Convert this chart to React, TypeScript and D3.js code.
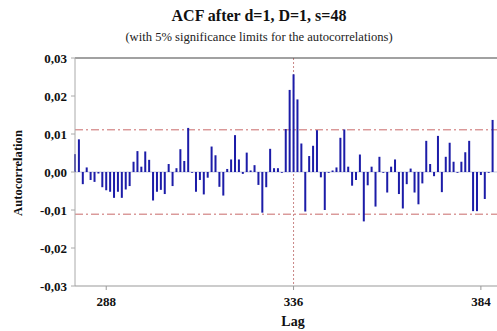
import React from "react";
import * as d3 from "d3";

// Autocorrelation of the differenced series, lags 280..387
const firstLag = 280;
const acfValues = [
  0.0047, 0.0086, -0.0032, 0.0012, -0.0021, -0.0026, -0.0004, -0.004, -0.0048, -0.0052,
  -0.0068, -0.0052, -0.0068, -0.0046, -0.0037, 0.0027, 0.0055, 0.0014, 0.0054, 0.0032,
  -0.0075, -0.0052, -0.0047, -0.0058, 0.0021, -0.0037, 0.001, 0.006, 0.0029, 0.0116,
  -0.0002, -0.0052, -0.0021, -0.0059, -0.0015, 0.0067, 0.0044, -0.0039, -0.0062, 0.0008,
  0.0033, 0.0097, 0.0033, -0.0005, 0.0051, 0.0004, 0.0018, -0.0034, -0.0107, -0.004,
  0.0061, 0.001, 0.001, -0.0002, 0.0113, 0.0216, 0.0257, 0.0191, 0.0075, -0.0104,
  0.0042, 0.0069, 0.011, -0.0014, -0.01, -0.0002, 0.0004, 0.0012, 0.009, 0.0112,
  0.0014, -0.0036, -0.0021, 0.0046, -0.013, -0.0035, 0.0014, -0.0091, 0.004, -0.0002,
  -0.0054, 0.0014, 0.0033, -0.0058, -0.0096, -0.0032, 0.0009, -0.0054, -0.0085, -0.003,
  0.0082, 0.0021, -0.0011, 0.0095, -0.0053, 0.004, 0.0077, 0.0027, -0.0002, 0.0027,
  0.0052, 0.0082, -0.0103, -0.0103, -0.0008, -0.0071, 0.0, 0.0137,
];
const xTickValues = [288, 336, 384];
const yTickValues = [-0.03, -0.02, -0.01, 0, 0.01, 0.02, 0.03];
const significanceLimit = 0.0111;
const seasonalLag = 336;

const W = 497;
const H = 331;
const plotLeft = 75;
const plotRight = 496.5;
const plotTop = 58;
const plotBottom = 286;

const serif = "'Liberation Serif', 'Times New Roman', serif";

export default function App() {
  const x = d3.scaleLinear().domain([280, 388]).range([plotLeft, plotRight]);
  const y = d3.scaleLinear().domain([-0.03, 0.03]).range([plotBottom, plotTop]);
  const fmt = (v: number) => d3.format(".2f")(v).replace(".", ",").replace("−", "-");
  const barW = 2;

  return (
    <svg
      width={W}
      height={H}
      style={{ position: "absolute", left: 0, top: 0, background: "#fff" }}
      fontFamily={serif}
    >
      <text x={259} y={21} textAnchor="middle" fontSize={16} fontWeight="bold" fill="#111">
        ACF after d=1, D=1, s=48
      </text>
      <text x={259} y={41} textAnchor="middle" fontSize={12.6} fill="#222">
        (with 5% significance limits for the autocorrelations)
      </text>

      {/* zero line */}
      <line x1={plotLeft} x2={W} y1={y(0)} y2={y(0)} stroke="#c4c7e0" strokeWidth={1} />

      {/* significance limits */}
      {[significanceLimit, -significanceLimit].map((v) => (
        <line
          key={v}
          x1={plotLeft}
          x2={W}
          y1={y(v)}
          y2={y(v)}
          stroke="#c96a6a"
          strokeWidth={1}
          strokeDasharray="8,3,2,3"
        />
      ))}

      {/* seasonal reference line */}
      <line
        x1={x(seasonalLag)}
        x2={x(seasonalLag)}
        y1={plotTop}
        y2={plotBottom}
        stroke="#c98585"
        strokeWidth={1}
        strokeDasharray="2,2"
      />

      {/* bars */}
      {acfValues.map((v, i) => {
        const lag = firstLag + i;
        const y0 = y(0);
        const y1 = y(v);
        return (
          <rect
            key={lag}
            x={x(lag) - barW / 2}
            y={Math.min(y0, y1)}
            width={barW}
            height={Math.max(Math.abs(y1 - y0), 0.8)}
            fill="#1c1ca8"
          />
        );
      })}

      {/* frame */}
      <line x1={plotLeft} x2={W} y1={plotTop} y2={plotTop} stroke="#444" strokeWidth={1.2} />
      <line x1={plotLeft} x2={plotLeft} y1={plotTop} y2={plotBottom} stroke="#aaa" strokeWidth={1} />
      <line x1={plotLeft} x2={W} y1={plotBottom} y2={plotBottom} stroke="#999" strokeWidth={1} />

      {/* y axis ticks and labels */}
      {yTickValues.map((v) => (
        <g key={v}>
          <line x1={plotLeft - 4} x2={plotLeft} y1={y(v)} y2={y(v)} stroke="#aaa" />
          <text
            x={67}
            y={y(v)}
            dy="0.35em"
            textAnchor="end"
            fontSize={13}
            fontWeight="bold"
            fill="#111"
          >
            {fmt(v)}
          </text>
        </g>
      ))}

      {/* x axis ticks and labels */}
      {xTickValues.map((t) => (
        <g key={t}>
          <line x1={x(t)} x2={x(t)} y1={plotBottom} y2={plotBottom + 4} stroke="#999" />
          <text x={x(t)} y={306} textAnchor="middle" fontSize={13} fontWeight="bold" fill="#111">
            {t}
          </text>
        </g>
      ))}

      <text x={293} y={326} textAnchor="middle" fontSize={14} fontWeight="bold" fill="#111">
        Lag
      </text>
      <text
        transform={`translate(22, ${(plotTop + plotBottom) / 2 + 1}) rotate(-90)`}
        textAnchor="middle"
        fontSize={12.6}
        fontWeight="bold"
        fill="#111"
      >
        Autocorrelation
      </text>
    </svg>
  );
}
